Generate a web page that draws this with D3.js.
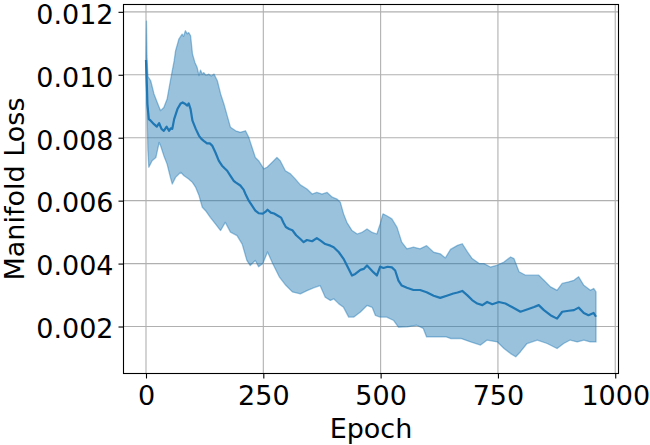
<!DOCTYPE html>
<html>
<head>
<meta charset="utf-8">
<script src="https://cdn.jsdelivr.net/npm/d3@7"></script>
<style>
  body { margin: 0; background: #fff; }
  svg { display: block; font-family: 'DejaVu Sans', sans-serif; }
</style>
</head>
<body>
<div id="chart"></div>
<script>
// values, loss in units of 1e-3
const meanEpochs = [0, 2, 3, 6, 10, 17, 23, 28, 33, 38, 44, 49, 53, 56, 60, 67, 74, 78, 84, 88, 91, 95, 99, 106, 113, 118, 123, 130, 136, 141, 148, 155, 162, 168, 173, 180, 187, 191, 201, 208, 212, 219, 226, 233, 240, 249, 255, 259, 266, 273, 281, 288, 293, 298, 305, 312, 320, 329, 336, 343, 354, 364, 372, 382, 393, 400, 411, 421, 432, 439, 446, 457, 464, 471, 478, 485, 492, 499, 506, 515, 524, 531, 538, 545, 556, 570, 584, 598, 613, 627, 641, 655, 664, 674, 685, 695, 706, 717, 727, 738, 752, 766, 780, 798, 812, 827, 837, 848, 862, 876, 887, 901, 912, 922, 933, 943, 954, 959];
const meanLoss = [10.47, 9.6, 9.07, 8.59, 8.54, 8.43, 8.35, 8.46, 8.28, 8.22, 8.35, 8.22, 8.3, 8.28, 8.59, 8.91, 9.09, 9.12, 9.07, 9.02, 9.09, 8.91, 8.54, 8.28, 8.06, 7.96, 7.9, 7.82, 7.82, 7.75, 7.53, 7.27, 7.11, 7.02, 6.95, 6.79, 6.63, 6.58, 6.48, 6.35, 6.21, 6.0, 5.84, 5.68, 5.6, 5.59, 5.65, 5.71, 5.62, 5.59, 5.52, 5.46, 5.3, 5.16, 5.1, 5.06, 4.9, 4.78, 4.68, 4.75, 4.71, 4.81, 4.73, 4.62, 4.57, 4.52, 4.36, 4.15, 3.83, 3.62, 3.67, 3.8, 3.83, 3.94, 3.83, 3.72, 3.62, 3.9, 3.86, 3.9, 3.88, 3.78, 3.46, 3.3, 3.23, 3.16, 3.16, 3.09, 2.98, 2.91, 2.98, 3.05, 3.08, 3.13, 2.99, 2.84, 2.73, 2.68, 2.78, 2.71, 2.78, 2.73, 2.62, 2.47, 2.54, 2.62, 2.68, 2.52, 2.36, 2.25, 2.47, 2.5, 2.52, 2.6, 2.43, 2.36, 2.43, 2.31];

const upperEpochs = [0, 1, 2, 4, 10, 17, 24, 31, 38, 45, 52, 60, 63, 70, 77, 80, 84, 88, 91, 95, 99, 104, 109, 113, 116, 120, 123, 128, 134, 139, 145, 152, 159, 166, 173, 180, 191, 201, 212, 219, 226, 233, 240, 251, 258, 269, 279, 286, 297, 308, 318, 329, 343, 354, 364, 375, 386, 397, 407, 414, 421, 428, 439, 450, 460, 471, 482, 492, 499, 505, 513, 524, 535, 545, 556, 570, 584, 598, 613, 627, 638, 649, 664, 674, 685, 695, 710, 720, 734, 749, 763, 777, 784, 795, 809, 823, 837, 848, 862, 876, 887, 901, 912, 922, 933, 947, 954, 959];
const upperLoss = [10.6, 11.7, 10.6, 9.95, 9.81, 9.39, 9.12, 8.86, 8.96, 9.23, 9.81, 10.44, 10.76, 11.13, 11.29, 11.22, 11.4, 11.3, 11.34, 11.24, 10.66, 10.4, 10.23, 9.97, 10.15, 10.02, 10.07, 9.98, 10.02, 9.96, 10.02, 9.81, 9.39, 9.07, 8.7, 8.33, 8.22, 8.17, 8.22, 8.01, 7.69, 7.37, 7.27, 7.01, 7.06, 7.22, 7.37, 7.27, 6.95, 6.85, 6.69, 6.5, 6.37, 6.21, 6.26, 6.21, 6.26, 6.11, 6.05, 5.95, 5.58, 5.31, 5.05, 4.94, 4.99, 5.1, 4.99, 4.94, 5.26, 5.58, 5.52, 5.42, 5.15, 4.68, 4.47, 4.52, 4.47, 4.57, 4.36, 4.31, 4.18, 4.45, 4.58, 4.63, 4.37, 4.16, 4.0, 4.0, 3.89, 3.95, 4.05, 4.21, 4.16, 3.74, 3.63, 3.63, 3.63, 3.47, 3.26, 3.15, 3.37, 3.42, 3.47, 3.58, 3.31, 3.15, 3.21, 3.1];

const lowerEpochs = [0, 2, 4, 6, 13, 21, 28, 31, 38, 45, 52, 56, 63, 74, 81, 91, 99, 106, 113, 120, 127, 137, 148, 159, 169, 180, 194, 205, 215, 222, 233, 240, 249, 259, 270, 284, 298, 312, 329, 343, 357, 371, 382, 393, 400, 411, 421, 432, 443, 457, 471, 482, 489, 499, 513, 528, 538, 556, 577, 591, 598, 619, 640, 649, 671, 692, 713, 727, 749, 763, 777, 788, 798, 812, 834, 855, 876, 890, 904, 919, 933, 947, 959];
const lowerLoss = [10.4, 9.0, 7.6, 7.06, 7.27, 7.37, 7.85, 7.75, 7.43, 7.16, 6.74, 6.53, 6.74, 6.9, 6.79, 6.69, 6.58, 6.42, 6.16, 5.79, 5.68, 5.47, 5.26, 5.05, 5.31, 5.0, 4.89, 4.62, 4.1, 3.94, 4.1, 3.9, 4.0, 4.37, 4.0, 3.58, 3.31, 3.1, 3.04, 3.14, 3.23, 3.3, 2.93, 2.83, 2.88, 2.72, 2.61, 2.3, 2.3, 2.46, 2.67, 2.61, 2.35, 2.3, 2.3, 2.19, 1.98, 1.99, 2.04, 1.94, 1.67, 1.67, 1.67, 1.62, 1.62, 1.51, 1.41, 1.57, 1.51, 1.3, 1.14, 1.04, 1.2, 1.46, 1.57, 1.46, 1.3, 1.46, 1.57, 1.51, 1.57, 1.51, 1.51];

const xTicks = [0, 250, 500, 750, 1000];
const yTicks = [0.002, 0.004, 0.006, 0.008, 0.010, 0.012];

const width = 650, height = 445;
const margin = { top: 4.5, right: 31.5, bottom: 71.5, left: 123.5 };
const innerW = width - margin.left - margin.right;
const innerH = height - margin.top - margin.bottom;
const blue = '#1f77b4';

const pts = (xs, ys) => xs.map((e, i) => [e, ys[i] / 1000]);
const mean = pts(meanEpochs, meanLoss);
const upper = pts(upperEpochs, upperLoss);
const lower = pts(lowerEpochs, lowerLoss);

// matplotlib style 5% margins
function padded(lo, hi) {
  const m = (hi - lo) * 0.05;
  return [lo - m, hi + m];
}
const xExt = d3.extent(meanEpochs);
const yExt = [d3.min(lower, (d) => d[1]), d3.max(upper, (d) => d[1])];

const x = d3.scaleLinear().domain(padded(xExt[0], xExt[1])).range([0, innerW]);
const y = d3.scaleLinear().domain(padded(yExt[0], yExt[1])).range([innerH, 0]);

const svg = d3
  .select('#chart')
  .append('svg')
  .attr('width', width)
  .attr('height', height);

const g = svg.append('g').attr('transform', `translate(${margin.left},${margin.top})`);

// grid
g.append('g')
  .selectAll('line')
  .data(xTicks)
  .join('line')
  .attr('x1', (d) => x(d))
  .attr('x2', (d) => x(d))
  .attr('y1', 0)
  .attr('y2', innerH)
  .attr('stroke', '#b0b0b0')
  .attr('stroke-width', 1.1);
g.append('g')
  .selectAll('line')
  .data(yTicks)
  .join('line')
  .attr('x1', 0)
  .attr('x2', innerW)
  .attr('y1', (d) => y(d))
  .attr('y2', (d) => y(d))
  .attr('stroke', '#b0b0b0')
  .attr('stroke-width', 1.1);

// band: upper forward, lower back
const line = d3.line().x((d) => x(d[0])).y((d) => y(d[1]));
const band = upper.concat(lower.slice().reverse());
g.append('path')
  .attr('d', line(band) + 'Z')
  .attr('fill', blue)
  .attr('fill-opacity', 0.45)
  .attr('stroke', blue)
  .attr('stroke-opacity', 0.45)
  .attr('stroke-width', 1.3)
  .attr('stroke-linejoin', 'round');

g.append('path')
  .attr('d', line(mean))
  .attr('fill', 'none')
  .attr('stroke', blue)
  .attr('stroke-width', 2.2)
  .attr('stroke-linejoin', 'round');

// axes
const xAxis = d3.axisBottom(x).tickValues(xTicks).tickSize(5).tickPadding(4).tickFormat(d3.format('d'));
const yAxis = d3.axisLeft(y).tickValues(yTicks).tickSize(5).tickPadding(5).tickFormat(d3.format('.3f'));

const gx = g.append('g').attr('transform', `translate(0,${innerH})`).call(xAxis);
const gy = g.append('g').call(yAxis);
[gx, gy].forEach((a) => {
  a.select('.domain').remove();
  a.selectAll('.tick line').attr('stroke', '#000').attr('stroke-width', 1.1);
  a.selectAll('.tick text')
    .attr('fill', '#000')
    .style('font-size', '27px')
    .style('font-family', "'DejaVu Sans', sans-serif");
});
gx.selectAll('.tick text').attr('dy', null).attr('y', 31.3);
gy.selectAll('.tick text').attr('dy', '0.42em');

// frame
g.append('rect')
  .attr('width', innerW)
  .attr('height', innerH)
  .attr('fill', 'none')
  .attr('stroke', '#000')
  .attr('stroke-width', 1.1);

// labels
svg.append('text')
  .attr('x', margin.left + innerW / 2)
  .attr('y', 438)
  .attr('text-anchor', 'middle')
  .style('font-size', '27px')
  .text('Epoch');

svg.append('text')
  .attr('transform', `translate(23.5,${margin.top + innerH / 2}) rotate(-90)`)
  .attr('text-anchor', 'middle')
  .style('font-size', '27px')
  .text('Manifold Loss');
</script>
</body>
</html>
